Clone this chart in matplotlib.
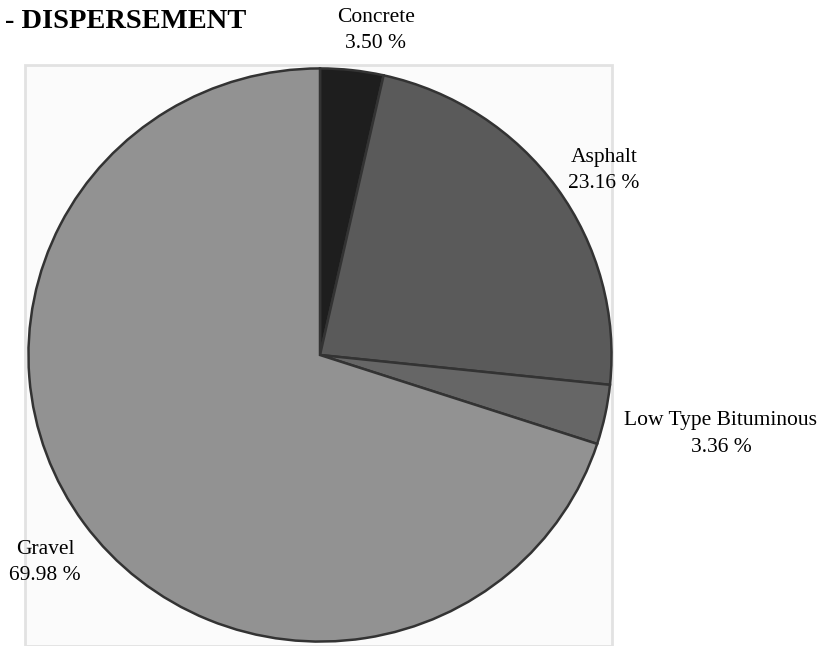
import matplotlib.pyplot as plt
from matplotlib.patches import Rectangle

# surface type shares (percent)
categories = ["Concrete", "Asphalt", "Low Type Bituminous", "Gravel"]
shares = [3.50, 23.16, 3.36, 69.98]
colors = ["#1e1e1e", "#5a5a5a", "#666666", "#929292"]

W, H = 820, 646
fig = plt.figure(figsize=(W / 100, H / 100), dpi=100)
plt.rcParams["font.family"] = ["Liberation Serif", "DejaVu Serif"]

# faint scanned-page box behind the pie
fig.patches.append(Rectangle((25 / W, 0), (612 - 25) / W, (H - 65) / H,
                             transform=fig.transFigure, facecolor="#fbfbfb",
                             edgecolor="#e2e2e2", linewidth=2, zorder=-5))

cx, cy, rx, ry = 320, 355, 293, 288
ax = fig.add_axes([(cx - rx) / W, (H - cy - ry) / H, 2 * rx / W, 2 * ry / H])
ax.set_zorder(2)
ax.pie(shares, colors=colors, startangle=90, counterclock=False, radius=1,
       wedgeprops=dict(edgecolor="#333333", linewidth=1.8))
ax.set_xlim(-1.005, 1.005)
ax.set_ylim(-1.005, 1.005)
ax.set_aspect("auto")
ax.axis("off")

fig.text(5 / W, 1 - 21 / H, "- DISPERSEMENT", fontsize=20.5, fontweight="bold",
         ha="left", va="center", zorder=5)

label_pos = {
    "Concrete": (376, 30),
    "Asphalt": (604, 171),
    "Low Type Bituminous": (721, 434),
    "Gravel": (45, 563),
}
for name, val in zip(categories, shares):
    x, y = label_pos[name]
    fig.text(x / W, 1 - y / H, f"{name}\n{val:.2f} %", fontsize=15.5,
             ha="center", va="center", linespacing=1.5, zorder=5)

fig.savefig("out.png", dpi=100)
